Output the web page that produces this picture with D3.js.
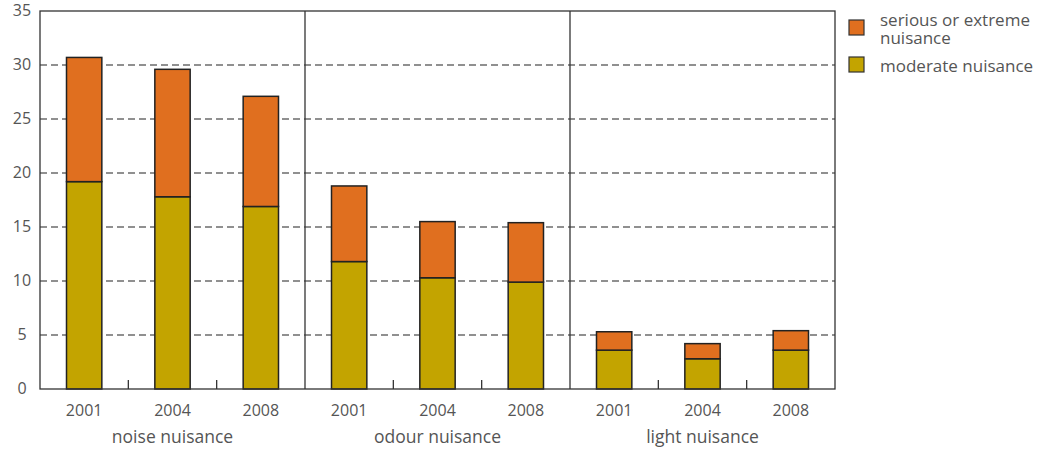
<!DOCTYPE html>
<html>
<head>
<meta charset="utf-8">
<script src="https://cdnjs.cloudflare.com/ajax/libs/d3/7.8.5/d3.min.js"></script>
<style>
body { margin: 0; background: #fff; }
text { font-family: "Open Sans", "Noto Sans", sans-serif; fill: #555; }
</style>
</head>
<body>
<svg id="chart" width="1041" height="450"></svg>
<script>
// data
const groups = ['noise nuisance', 'odour nuisance', 'light nuisance'];
const years = ['2001', '2004', '2008'];
const moderate = [19.2, 17.8, 16.9, 11.8, 10.3, 9.9, 3.6, 2.8, 3.6];
const serious = [11.5, 11.8, 10.2, 7.0, 5.2, 5.5, 1.7, 1.4, 1.8];
const yTicks = [0, 5, 10, 15, 20, 25, 30, 35];
const legendLabels = [['serious or extreme', 'nuisance'], ['moderate nuisance']];
const colors = { serious: '#e06f1f', moderate: '#c3a400' };

const svg = d3.select('#chart');
const pLeft = 40, pRight = 835, pTop = 11, pBottom = 389;

const xGroup = d3.scaleBand().domain(groups).range([pLeft, pRight]).padding(0);
const xYear = d3.scaleBand().domain(years).range([0, xGroup.bandwidth()]).padding(0);
const y = d3.scaleLinear().domain([0, 35]).range([pBottom, pTop]);

// gridlines
svg.append('g').selectAll('line')
    .data(yTicks.filter(d => d > 0 && d < 35))
    .enter().append('line')
        .attr('x1', pLeft).attr('x2', pRight)
        .attr('y1', d => y(d)).attr('y2', d => y(d))
        .attr('stroke', '#222')
        .attr('stroke-width', 1.2)
        .style('stroke-dasharray', ('7, 4'));

// y labels
svg.append('g').selectAll('text')
    .data(yTicks)
    .enter().append('text')
        .attr('x', 22)
        .attr('y', d => y(d) + 5)
        .attr('text-anchor', 'middle')
        .style('font-size', '16px')
        .text(d => d);

// bars
let data = [];
groups.forEach((g, gi) => {
    years.forEach((yr, yi) => {
        let i = gi * 3 + yi;
        data.push({ g: g, yr: yr, m: moderate[i], s: serious[i] });
    });
});
const bw = xYear.bandwidth() * 0.4;
const bx = d => xGroup(d.g) + xYear(d.yr) + (xYear.bandwidth() - bw) / 2;

const bars = svg.append('g');
bars.selectAll('.mod').data(data).enter().append('rect')
    .attr('x', bx).attr('width', bw)
    .attr('y', d => y(d.m)).attr('height', d => y(0) - y(d.m))
    .attr('fill', colors.moderate).attr('stroke', '#222').attr('stroke-width', 1.5);
bars.selectAll('.ser').data(data).enter().append('rect')
    .attr('x', bx).attr('width', bw)
    .attr('y', d => y(d.m + d.s)).attr('height', d => y(d.m) - y(d.m + d.s))
    .attr('fill', colors.serious).attr('stroke', '#222').attr('stroke-width', 1.5);

// frame
const frame = svg.append('g').attr('stroke', '#333').attr('stroke-width', 1.3);
frame.append('rect').attr('x', pLeft).attr('y', pTop)
    .attr('width', pRight - pLeft).attr('height', pBottom - pTop).attr('fill', 'none');
groups.slice(1).forEach(g => {
    frame.append('line').attr('x1', xGroup(g)).attr('x2', xGroup(g))
        .attr('y1', pTop).attr('y2', pBottom);
});
// small ticks inside groups
groups.forEach(g => {
    years.slice(1).forEach(yr => {
        let xx = xGroup(g) + xYear(yr);
        frame.append('line').attr('x1', xx).attr('x2', xx)
            .attr('y1', pBottom).attr('y2', pBottom - 9);
    });
});

// x labels
svg.append('g').selectAll('text').data(data).enter().append('text')
    .attr('x', d => xGroup(d.g) + xYear(d.yr) + xYear.bandwidth() / 2)
    .attr('y', 416)
    .attr('text-anchor', 'middle')
    .style('font-size', '16px')
    .text(d => d.yr);
svg.append('g').selectAll('text').data(groups).enter().append('text')
    .attr('x', d => xGroup(d) + xGroup.bandwidth() / 2)
    .attr('y', 443)
    .attr('text-anchor', 'middle')
    .style('font-size', '17.5px')
    .text(d => d);

// legend
const leg = svg.append('g');
[colors.serious, colors.moderate].forEach((c, i) => {
    let ly = i == 0 ? 20 : 57;
    leg.append('rect').attr('x', 849).attr('y', ly).attr('width', 15).attr('height', 15)
        .attr('fill', c).attr('stroke', '#333').attr('stroke-width', 1.2);
    let t = leg.append('text').attr('x', 880).attr('y', ly + (i == 0 ? 6 : 15))
        .style('font-size', '17px');
    legendLabels[i].forEach((line, j) => {
        t.append('tspan').attr('x', 880).attr('dy', j == 0 ? 0 : 18).text(line);
    });
});
</script>
</body>
</html>
